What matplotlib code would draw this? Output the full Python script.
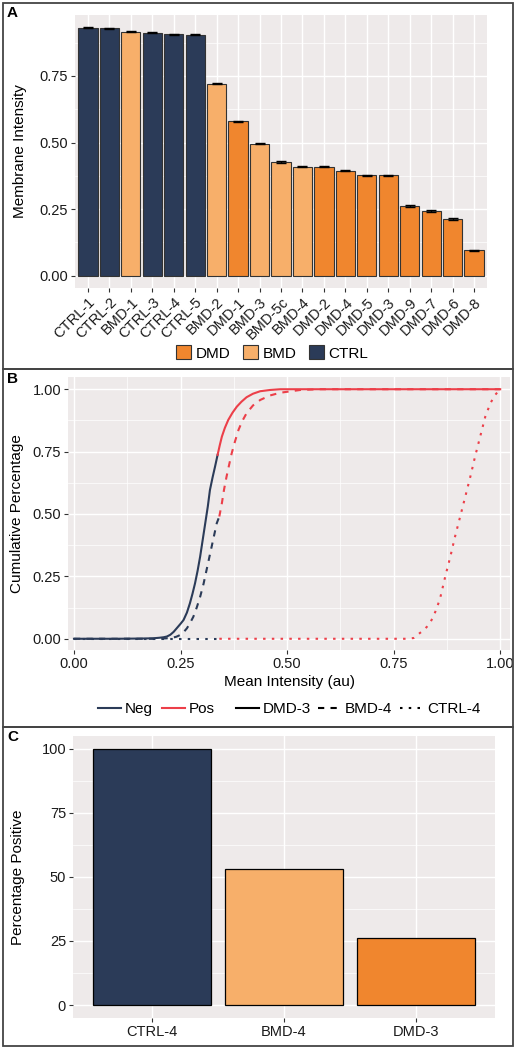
import numpy as np
import matplotlib
matplotlib.use('Agg')
from matplotlib import pyplot as plt
from matplotlib.patches import Patch, Rectangle
from matplotlib.lines import Line2D

plt.rcParams['font.family'] = ['Liberation Sans', 'DejaVu Sans']

# ---- panel A data
samples = ['CTRL-1', 'CTRL-2', 'BMD-1', 'CTRL-3', 'CTRL-4', 'CTRL-5', 'BMD-2', 'DMD-1',
           'BMD-3', 'BMD-5c', 'BMD-4', 'DMD-2', 'DMD-4', 'DMD-5', 'DMD-3', 'DMD-9',
           'DMD-7', 'DMD-6', 'DMD-8']
groups = ['CTRL', 'CTRL', 'BMD', 'CTRL', 'CTRL', 'CTRL', 'BMD', 'DMD',
          'BMD', 'BMD', 'BMD', 'DMD', 'DMD', 'DMD', 'DMD', 'DMD',
          'DMD', 'DMD', 'DMD']
intensity = [0.932, 0.929, 0.916, 0.912, 0.906, 0.905, 0.721, 0.580,
             0.495, 0.428, 0.410, 0.409, 0.395, 0.378, 0.377, 0.261,
             0.243, 0.214, 0.096]
intensity_err = [0.002, 0.002, 0.002, 0.002, 0.002, 0.002, 0.002, 0.002,
                 0.002, 0.004, 0.002, 0.002, 0.002, 0.002, 0.002, 0.004,
                 0.004, 0.003, 0.002]

# ---- panel B data (cumulative curves)
dmd3_x = [0.0, 0.10, 0.160, 0.186, 0.200, 0.210, 0.218, 0.226, 0.234, 0.241, 0.250,
          0.257, 0.265, 0.272, 0.278, 0.284, 0.290, 0.296, 0.302, 0.308, 0.314,
          0.319, 0.325, 0.331, 0.337, 0.342, 0.347, 0.354, 0.362, 0.372, 0.382,
          0.393, 0.405, 0.420, 0.437, 0.460, 0.484, 0.55, 0.75, 1.0]
dmd3_y = [0.0, 0.0, 0.001, 0.002, 0.004, 0.006, 0.009, 0.016, 0.028, 0.042, 0.060,
          0.075, 0.105, 0.142, 0.180, 0.222, 0.272, 0.329, 0.396, 0.463, 0.530,
          0.596, 0.645, 0.690, 0.737, 0.775, 0.810, 0.845, 0.877, 0.906, 0.930,
          0.950, 0.968, 0.982, 0.992, 0.997, 1.0, 1.0, 1.0, 1.0]
bmd4_x = [0.0, 0.10, 0.20, 0.220, 0.230, 0.240, 0.249, 0.257, 0.265, 0.272, 0.280,
          0.288, 0.296, 0.304, 0.311, 0.317, 0.323, 0.329, 0.335, 0.341, 0.347,
          0.352, 0.358, 0.364, 0.370, 0.378, 0.386, 0.395, 0.405, 0.420, 0.437,
          0.460, 0.484, 0.531, 0.577, 0.75, 1.0]
bmd4_y = [0.0, 0.0, 0.0, 0.002, 0.004, 0.008, 0.015, 0.026, 0.042, 0.062, 0.088,
          0.125, 0.168, 0.220, 0.275, 0.322, 0.369, 0.416, 0.463, 0.490, 0.543,
          0.597, 0.650, 0.697, 0.743, 0.792, 0.837, 0.873, 0.904, 0.935, 0.957,
          0.975, 0.986, 0.997, 1.0, 1.0, 1.0]
ctrl4_x = [0.0, 0.20, 0.341, 0.60, 0.780, 0.797, 0.810, 0.820, 0.828, 0.836, 0.843,
           0.851, 0.859, 0.865, 0.871, 0.877, 0.883, 0.894, 0.906, 0.918, 0.930,
           0.941, 0.953, 0.965, 0.977, 0.988, 1.0]
ctrl4_y = [0.0, 0.0, 0.0, 0.0, 0.0, 0.003, 0.021, 0.034, 0.048, 0.066, 0.088,
           0.122, 0.162, 0.205, 0.249, 0.289, 0.329, 0.409, 0.489, 0.569, 0.650,
           0.730, 0.810, 0.890, 0.944, 0.977, 1.0]
pos_cutoff = 0.341

# ---- panel C data
c_samples = ['CTRL-4', 'BMD-4', 'DMD-3']
c_groups = ['CTRL', 'BMD', 'DMD']
pct_positive = [100.0, 53.1, 26.0]

col = {'DMD': '#F0862E', 'BMD': '#F7AF6A', 'CTRL': '#2B3B58'}
neg_col = '#2B3B58'
pos_col = '#EC3F49'
bg = '#EEEAEA'

fig = plt.figure(figsize=(5.18, 10.5), dpi=100)
W, H = 518.0, 1050.0


def px_axes(x0, y0, x1, y1):
    return fig.add_axes([x0 / W, 1 - y1 / H, (x1 - x0) / W, (y1 - y0) / H])


def gg_style(ax):
    ax.set_facecolor(bg)
    for s in ax.spines.values():
        s.set_visible(False)
    ax.tick_params(axis='both', colors='#333333', labelcolor='#1a1a1a',
                   labelsize=10.5, length=3, width=0.8, pad=2)
    ax.set_axisbelow(True)


# ---------------- A
axA = px_axes(75, 15, 487, 288)
gg_style(axA)
xa = np.arange(len(samples))
axA.bar(xa, intensity, width=0.9, color=[col[g] for g in groups],
        edgecolor='#333333', linewidth=0.8, zorder=2)
axA.errorbar(xa, intensity, yerr=intensity_err, fmt='none', ecolor='black',
             elinewidth=0.8, capsize=3.5, capthick=1.0, zorder=3)
axA.set_xlim(-0.6, len(samples) - 0.4)
axA.set_ylim(-0.046, 0.979)
axA.set_yticks([0, 0.25, 0.5, 0.75])
axA.set_yticklabels(['0.00', '0.25', '0.50', '0.75'])
axA.set_yticks([0.125, 0.375, 0.625, 0.875], minor=True)
axA.set_xticks(xa)
axA.set_xticklabels(samples, rotation=45, ha='right', rotation_mode='anchor')
axA.tick_params(axis='y', which='minor', length=0)
axA.grid(True, which='major', color='white', lw=1.0)
axA.grid(True, which='minor', axis='y', color='white', lw=0.5)
axA.set_ylabel('Membrane Intensity', fontsize=11, labelpad=9)
fig.legend(handles=[Patch(facecolor=col[g], edgecolor='#333333', lw=0.8, label=g)
                    for g in ['DMD', 'BMD', 'CTRL']],
           loc='center', bbox_to_anchor=(272 / W, 1 - 353 / H), ncol=3, frameon=False,
           fontsize=11, handlelength=1.0, handleheight=1.0, handletextpad=0.3,
           columnspacing=0.8)

# ---------------- B
axB = px_axes(68, 377, 510, 650)
gg_style(axB)
dash_style = {'DMD-3': '-', 'BMD-4': (0, (3, 3)), 'CTRL-4': (0, (1.2, 3))}
for name, cx, cy in [('CTRL-4', ctrl4_x, ctrl4_y), ('BMD-4', bmd4_x, bmd4_y),
                     ('DMD-3', dmd3_x, dmd3_y)]:
    cx = np.array(cx)
    cy = np.array(cy)
    neg = cx <= pos_cutoff + 1e-9
    pos = cx >= pos_cutoff - 0.005
    ls = dash_style[name]
    axB.plot(cx[neg], cy[neg], color=neg_col, lw=1.5, linestyle=ls, zorder=3)
    axB.plot(cx[pos], cy[pos], color=pos_col, lw=1.5, linestyle=ls, zorder=3)
axB.set_xlim(-0.014, 1.023)
axB.set_ylim(-0.045, 1.049)
ticks = [0, 0.25, 0.5, 0.75, 1.0]
labs = ['0.00', '0.25', '0.50', '0.75', '1.00']
axB.set_xticks(ticks)
axB.set_xticklabels(labs)
axB.set_yticks(ticks)
axB.set_yticklabels(labs)
axB.set_xticks([0.125, 0.375, 0.625, 0.875], minor=True)
axB.set_yticks([0.125, 0.375, 0.625, 0.875], minor=True)
axB.tick_params(which='minor', length=0)
axB.grid(True, which='major', color='white', lw=1.0)
axB.grid(True, which='minor', color='white', lw=0.5)
axB.set_xlabel('Mean Intensity (au)', fontsize=11, labelpad=3)
axB.set_ylabel('Cumulative Percentage', fontsize=11, labelpad=6)

fig.legend(handles=[Line2D([], [], color=neg_col, lw=1.5, label='Neg'),
                    Line2D([], [], color=pos_col, lw=1.5, label='Pos')],
           loc='center', bbox_to_anchor=(156 / W, 1 - 709 / H), ncol=2,
           frameon=False, fontsize=11, handlelength=1.5, handletextpad=0.25,
           columnspacing=0.6)
fig.legend(handles=[Line2D([], [], color='black', lw=1.5, label='DMD-3'),
                    Line2D([], [], color='black', lw=1.5, ls=(0, (3, 3)), label='BMD-4'),
                    Line2D([], [], color='black', lw=1.5, ls=(0, (1.2, 3)), label='CTRL-4')],
           loc='center', bbox_to_anchor=(358 / W, 1 - 709 / H), ncol=3,
           frameon=False, fontsize=11, handlelength=1.5, handletextpad=0.25,
           columnspacing=0.5)

# ---------------- C
axC = px_axes(73, 736, 495, 1018)
gg_style(axC)
xc = np.arange(1, len(c_samples) + 1)
axC.bar(xc, pct_positive, width=0.9, color=[col[g] for g in c_groups],
        edgecolor='black', linewidth=0.9, zorder=2)
axC.set_xlim(0.4, len(c_samples) + 0.6)
axC.set_ylim(-5.06, 104.9)
axC.set_xticks(xc)
axC.set_xticklabels(c_samples)
axC.set_yticks([0, 25, 50, 75, 100])
axC.set_yticks([12.5, 37.5, 62.5, 87.5], minor=True)
axC.tick_params(which='minor', length=0)
axC.grid(True, which='major', color='white', lw=1.0)
axC.grid(True, which='minor', axis='y', color='white', lw=0.5)
axC.set_ylabel('Percentage Positive', fontsize=11, labelpad=12)

# ---------------- panel frames and letters
for y0, y1, letter in [(3, 369, 'A'), (369, 727, 'B'), (727, 1046, 'C')]:
    fig.add_artist(Rectangle((3 / W, 1 - y1 / H), 510 / W, (y1 - y0) / H,
                             transform=fig.transFigure, fill=False,
                             edgecolor='#444444', lw=1.3))
    fig.text(7 / W, 1 - (y0 + 3) / H, letter, fontsize=11, fontweight='bold',
             va='top', ha='left')

fig.savefig('out.png', dpi=100)
